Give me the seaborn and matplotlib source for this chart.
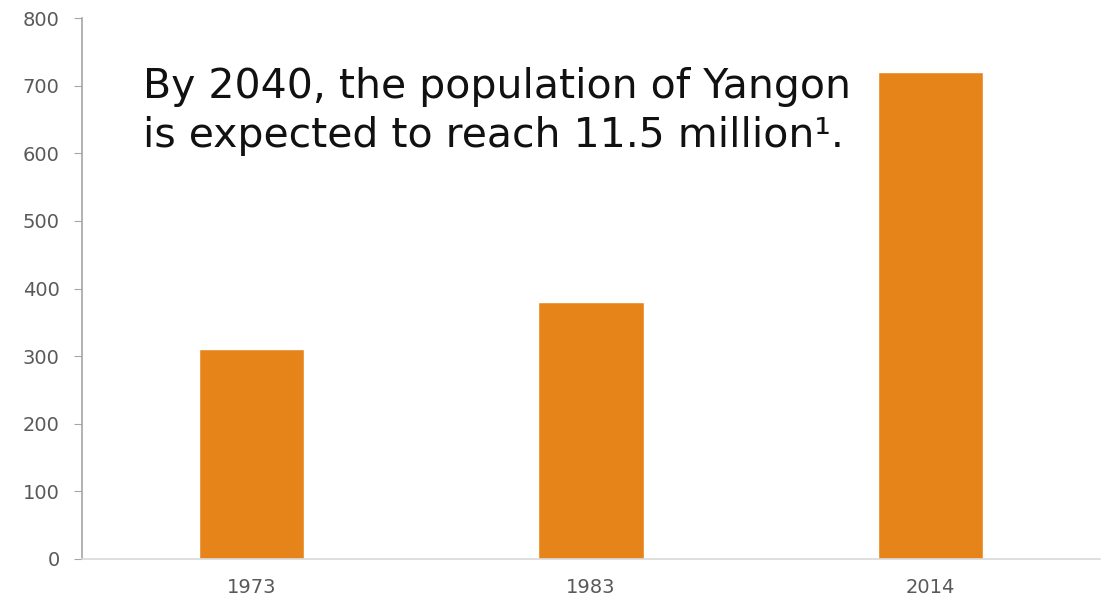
import matplotlib
matplotlib.use("Agg")
import matplotlib.pyplot as plt
import seaborn as sns
import pandas as pd

years = ["1973", "1983", "2014"]
values = [310, 380, 720]
y_ticks = [0, 100, 200, 300, 400, 500, 600, 700, 800]
note = "By 2040, the population of Yangon\nis expected to reach 11.5 million\u00b9."

BAR_COLOR = "#E6841A"
TICK_COLOR = "#595959"

sns.set_style("white")
plt.rcParams["font.family"] = ["DejaVu Sans"]

df = pd.DataFrame({"year": years, "value": values})

fig = plt.figure(figsize=(11.15, 6.03), dpi=100)
ax = fig.add_axes([0.0735, 0.073, 0.913, 0.897])

sns.barplot(data=df, x="year", y="value", color=BAR_COLOR, width=0.31,
            saturation=1, ax=ax)

ax.set_xlim(-0.5, 2.5)
ax.set_ylim(0, 800)
ax.set_yticks(y_ticks)
ax.set_xlabel("")
ax.set_ylabel("")

for s in ["top", "right"]:
    ax.spines[s].set_visible(False)
ax.spines["left"].set_color("#A6A6A6")
ax.spines["bottom"].set_color("#D9D9D9")
ax.spines["left"].set_linewidth(1.2)
ax.spines["bottom"].set_linewidth(1.2)

ax.tick_params(axis="y", length=6, color="#A6A6A6", labelcolor=TICK_COLOR,
               labelsize=14, pad=10, left=True)
ax.tick_params(axis="x", length=0, labelcolor=TICK_COLOR, labelsize=14, pad=14)

ax.text(0.06, 0.91, note, transform=ax.transAxes, fontsize=29.5,
        color="#111111", va="top", ha="left", linespacing=1.3)

plt.savefig("out.png", dpi=100)
plt.close()
